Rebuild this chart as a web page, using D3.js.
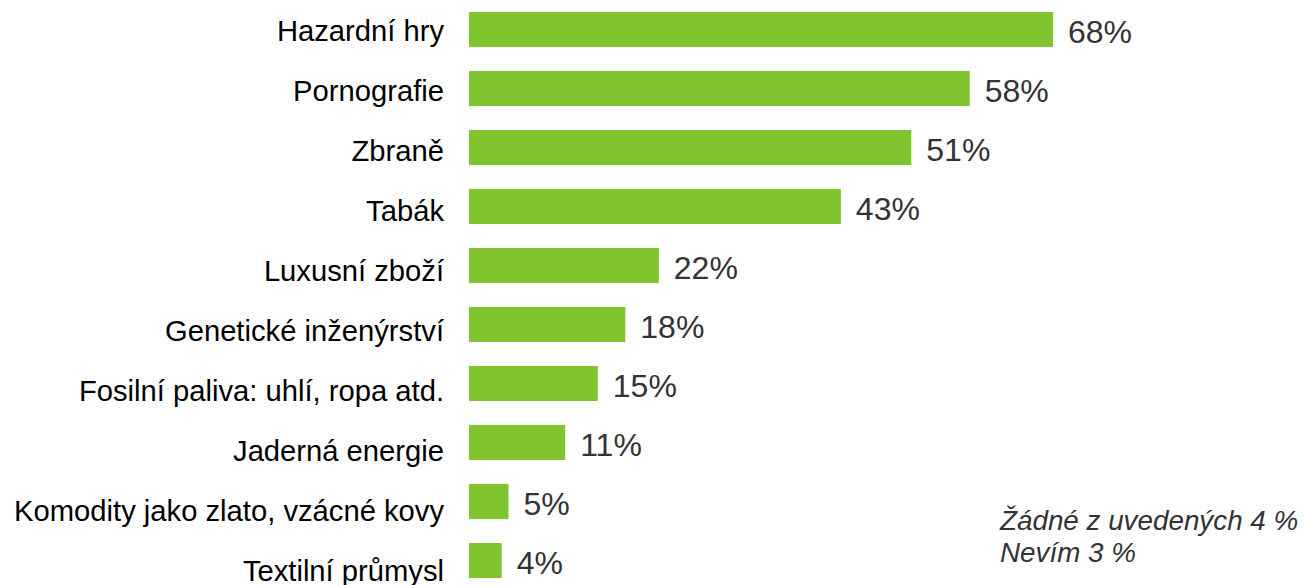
<!DOCTYPE html>
<html>
<head>
<meta charset="utf-8">
<script src="https://cdn.jsdelivr.net/npm/d3@7"></script>
<style>
html,body{margin:0;padding:0;background:#fff;}
svg{display:block;}
</style>
</head>
<body>
<svg id="chart" width="1304" height="585"></svg>
<script>
const categories = ["Hazardní hry","Pornografie","Zbraně","Tabák","Luxusní zboží","Genetické inženýrství","Fosilní paliva: uhlí, ropa atd.","Jaderná energie","Komodity jako zlato, vzácné kovy","Textilní průmysl"];
const values = [68,58.3,51.5,43.3,22.1,18.2,15,11.2,4.6,3.8];
const valueLabels = ["68%","58%","51%","43%","22%","18%","15%","11%","5%","4%"];
const notes = ["Žádné z uvedených 4 %","Nevím 3 %"];

const svg = d3.select("#chart");
const font = "'Liberation Sans', Arial, sans-serif";

const x = d3.scaleLinear().domain([0, 68]).range([469, 1053]);
const y = d3.scaleBand().domain(categories).range([0.2, 589.8]).paddingInner(0.407).paddingOuter(0.2);
const yLabel = d3.scalePoint().domain(categories).range([31, 571]);

svg.append("g").selectAll("rect").data(categories).join("rect")
  .attr("x", x(0))
  .attr("y", d => y(d))
  .attr("width", (d,i) => x(values[i]) - x(0))
  .attr("height", y.bandwidth())
  .attr("fill", "#80C42F");

svg.append("g").selectAll("text").data(categories).join("text")
  .attr("x", 444)
  .attr("y", d => yLabel(d))
  .attr("dy", "0.35em")
  .attr("text-anchor", "end")
  .attr("font-family", font)
  .attr("font-size", 29.2)
  .attr("fill", "#000")
  .text(d => d);

svg.append("g").selectAll("text").data(categories).join("text")
  .attr("x", (d,i) => x(values[i]) + 15)
  .attr("y", d => y(d) + y.bandwidth()/2 + 2)
  .attr("dy", "0.35em")
  .attr("font-family", font)
  .attr("font-size", 32)
  .attr("fill", "#333")
  .text((d,i) => valueLabels[i]);

svg.append("g").selectAll("text").data(notes).join("text")
  .attr("x", 1000)
  .attr("y", (d,i) => 530 + i*32)
  .attr("font-family", font)
  .attr("font-style", "italic")
  .attr("font-size", 27.8)
  .attr("fill", "#333")
  .text(d => d);
</script>
</body>
</html>
